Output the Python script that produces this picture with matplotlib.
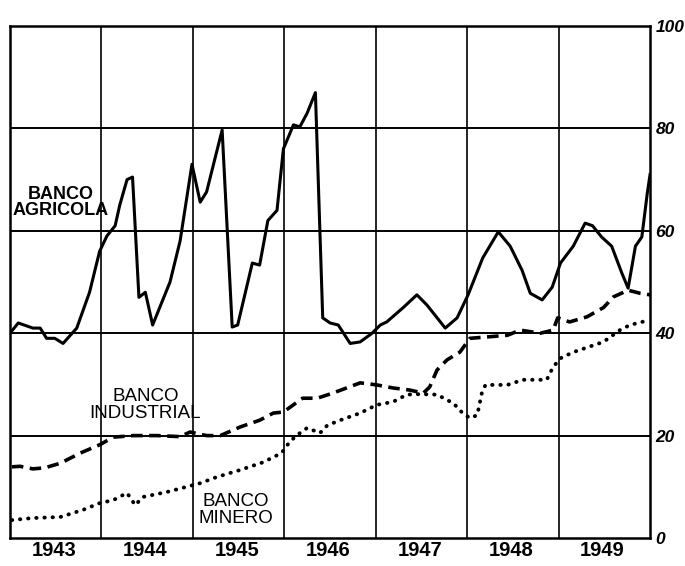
import matplotlib
matplotlib.use('Agg')
import matplotlib.pyplot as plt

# 年份 (1943 起算的小数年) 和数值
agricola_x = [0.00, 0.09, 0.25, 0.33, 0.40, 0.49, 0.58, 0.73, 0.87, 0.98,
              1.06, 1.15, 1.20, 1.28, 1.34, 1.41, 1.48, 1.56, 1.75, 1.86,
              1.99, 2.08, 2.15, 2.32, 2.43, 2.49, 2.65, 2.73, 2.82, 2.92,
              2.99, 3.10, 3.17, 3.25, 3.34, 3.42, 3.50, 3.59, 3.72, 3.83,
              3.96, 4.05, 4.12, 4.30, 4.45, 4.56, 4.76, 4.89, 5.01, 5.17,
              5.34, 5.47, 5.60, 5.69, 5.82, 5.93, 6.02, 6.16, 6.29, 6.37,
              6.47, 6.58, 6.69, 6.76, 6.84, 6.91, 6.97, 7.00]
agricola_y = [40, 42, 41, 41, 39, 39, 38, 41, 48, 56,
              59, 61, 65, 70, 70.5, 47, 48, 41.6, 50, 58,
              73, 65.6, 67.6, 79.7, 41.2, 41.6, 53.7, 53.3, 62, 64,
              76, 80.7, 80.3, 83, 87, 43, 42, 41.6, 38, 38.3,
              40, 41.6, 42.2, 45, 47.5, 45.5, 41, 43, 47.5, 54.7,
              59.8, 57, 52.3, 47.8, 46.5, 49, 53.7, 57, 61.5, 61,
              58.8, 57, 51.8, 48.8, 57, 58.8, 67.4, 71]

industrial_x = [0.02, 0.11, 0.25, 0.38, 0.55, 0.77, 0.98, 1.13, 1.35, 1.61,
                1.86, 1.97, 2.15, 2.30, 2.52, 2.73, 2.88, 2.99, 3.20, 3.36,
                3.53, 3.83, 4.01, 4.19, 4.37, 4.52, 4.59, 4.67, 4.78, 4.92,
                5.03, 5.17, 5.44, 5.58, 5.80, 5.94, 5.99, 6.12, 6.31, 6.49,
                6.60, 6.76, 6.89, 7.00]
industrial_y = [13.9, 14, 13.5, 13.7, 14.6, 16.6, 18.2, 19.7, 20, 20,
                19.8, 20.7, 20, 20, 21.7, 23, 24.4, 24.6, 27.3, 27.3,
                28.3, 30.3, 29.9, 29.3, 28.9, 28.3, 29.5, 32.8, 34.8, 36.3,
                39, 39.2, 39.6, 40.6, 40, 40.6, 43, 42.2, 43.2, 45,
                47.1, 48.4, 47.8, 47.5]

minero_x = [0.02, 0.25, 0.55, 0.80, 0.98, 1.13, 1.28, 1.37, 1.45, 1.72,
            1.89, 2.08, 2.26, 2.52, 2.77, 2.97, 3.06, 3.14, 3.25, 3.39,
            3.47, 3.61, 3.83, 4.01, 4.19, 4.34, 4.48, 4.67, 4.85, 4.95,
            5.03, 5.11, 5.16, 5.20, 5.44, 5.61, 5.87, 5.94, 6.02, 6.16,
            6.49, 6.67, 6.78, 7.00]
minero_y = [3.5, 3.9, 4.1, 5.5, 6.8, 7.4, 8.8, 6.4, 8, 9,
            9.8, 10.7, 11.9, 13.3, 14.8, 16.6, 18.8, 20.1, 21.5, 20.5,
            22, 23, 24.4, 26, 26.6, 28, 28.1, 28, 26.3, 24.4,
            23.4, 24, 28.3, 29.9, 29.9, 30.9, 30.9, 33.4, 35.1, 36.3,
            38.3, 40.6, 41.6, 42.6]

years = ['1943', '1944', '1945', '1946', '1947', '1948', '1949']
y_ticks = [0, 20, 40, 60, 80, 100]

font = ['Liberation Sans', 'DejaVu Sans']

fig = plt.figure(figsize=(6.85, 5.66), dpi=100)
ax = fig.add_axes([0.0146, 0.0495, 0.9344, 0.9045])

ax.set_xlim(0, 7)
ax.set_ylim(0, 100)

# 网格
for v in [20, 40, 60, 80]:
    ax.axhline(v, color='black', lw=1.4, zorder=1)
for i in range(1, 7):
    ax.axvline(i, color='black', lw=1.2, zorder=1)

ax.plot(agricola_x, agricola_y, color='black', lw=2.2, solid_joinstyle='round', zorder=3)
ax.plot(industrial_x, industrial_y, color='black', lw=2.6,
        linestyle=(0, (3.2, 1.8)), zorder=3)
ax.plot(minero_x, minero_y, color='black', lw=2.8,
        linestyle=(0, (0.1, 2.0)), dash_capstyle='round', zorder=3)

for s in ax.spines.values():
    s.set_linewidth(1.8)

ax.set_xticks([])
ax.yaxis.tick_right()
ax.set_yticks(y_ticks)
ax.set_yticklabels([str(v) for v in y_ticks], fontstyle='italic',
                   fontweight='bold', fontsize=12.5, family=font)
ax.tick_params(axis='y', length=0, pad=4)

for i, yr in enumerate(years):
    ax.text(i + 0.48, -0.6, yr, ha='center', va='top', fontsize=14.5,
            fontweight='bold', family=font)

ax.text(0.55, 65.5, 'BANCO\nAGRICOLA', ha='center', va='center', fontsize=13,
        fontweight='bold', family=font, linespacing=0.95)
ax.text(1.48, 26, 'BANCO\nINDUSTRIAL', ha='center', va='center', fontsize=13.5,
        family=font, linespacing=0.95, zorder=4)
ax.text(2.47, 5.5, 'BANCO\nMINERO', ha='center', va='center', fontsize=13.5,
        family=font, linespacing=0.95)

plt.savefig('out.png', dpi=100)
